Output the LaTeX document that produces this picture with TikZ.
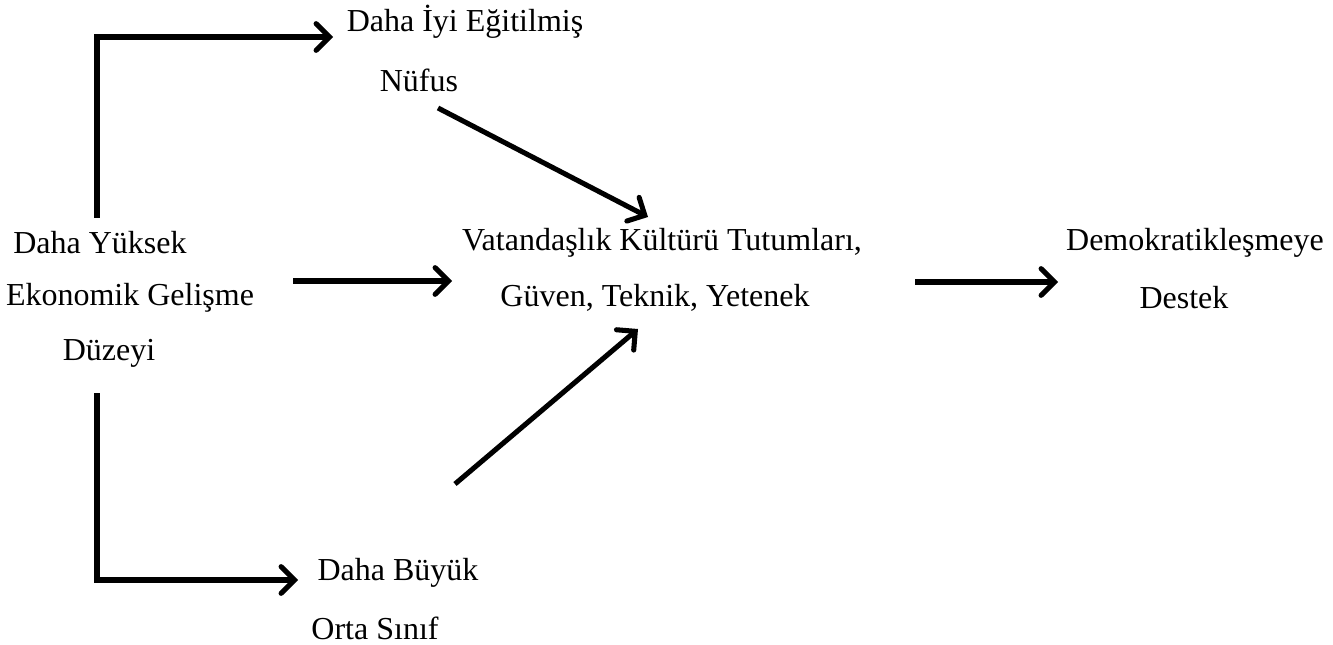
\documentclass[tikz,border=0pt]{standalone}
\usepackage{fontspec}
\setmainfont{Liberation Serif}
\usetikzlibrary{positioning,arrows.meta}

\begin{document}
\begin{tikzpicture}
		[x=0.375pt,y=-0.375pt,
		label/.style={inner sep=0pt,font=\fontsize{12}{14}\selectfont},
		link/.style={line width=1.9pt,-{Straight Barb[length=5pt,width=10pt,line cap=round]}}]
		\useasboundingbox (0,0) rectangle (1333,645);

		\node [label] (e1) at (100,243) {Daha Yüksek};
		\node [label] (e2) at (130,298) {Ekonomik Gelişme};
		\node [label] (e3) at (109,353) {Düzeyi};

		\node [label] (n1) at (465,22) {Daha İyi Eğitilmiş};
		\node [label] (n2) at (419,80) {Nüfus};

		\node [label] (v1) at (662,243) {Vatandaşlık Kültürü Tutumları,};
		\node [label] (v2) at (655,298) {Güven, Teknik, Yetenek};

		\node [label] (d1) at (1195,243) {Demokratikleşmeye};
		\node [label] (d2) at (1184,298) {Destek};

		\node [label] (o1) at (398,573) {Daha Büyük};
		\node [label] (o2) at (375,628) {Orta Sınıf};

		\coordinate (up0) at (97,218);
		\coordinate (up1) at (333,37);
		\coordinate (lo0) at (97,393);
		\coordinate (lo1) at (298,580);
		\coordinate (m0) at (293,281);
		\coordinate (m1) at (452,281);
		\coordinate (a0) at (438,108);
		\coordinate (a1) at (648,217);
		\coordinate (b0) at (455,484);
		\coordinate (b1) at (638,329);
		\coordinate (r0) at (915,282);
		\coordinate (r1) at (1058,282);

		\draw [link] (up0) |- (up1);
		\draw [link] (lo0) |- (lo1);
		\draw [link] (m0) -- (m1);
		\draw [link] (a0) -- (a1);
		\draw [link] (b0) -- (b1);
		\draw [link] (r0) -- (r1);

	\end{tikzpicture}
\end{document}
